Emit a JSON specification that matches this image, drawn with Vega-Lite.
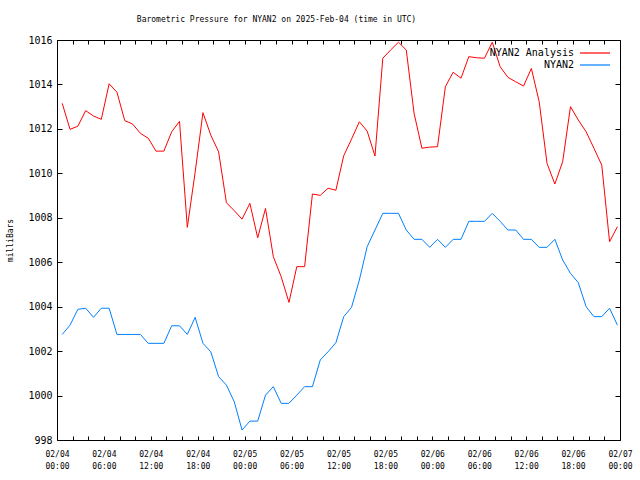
{
  "$schema": "https://vega.github.io/schema/vega-lite/v6.json",
  "width": 563,
  "height": 400,
  "autosize": {"type": "none"},
  "padding": {"left": 57, "top": 40, "right": 20, "bottom": 40},
  "background": "white",
  "title": {
    "text": "Barometric Pressure for NYAN2 on 2025-Feb-04 (time in UTC)",
    "anchor": "middle",
    "dx": -62,
    "offset": 11,
    "font": "DejaVu Sans Mono",
    "fontSize": 8,
    "fontWeight": "normal",
    "color": "black"
  },
  "config": {
    "view": {"stroke": "black", "strokeWidth": 1},
    "axis": {"grid": false, "domain": false, "tickColor": "black", "labelColor": "black", "titleColor": "black"}
  },
  "data": {
    "values": [
      {"t": "2025-02-04T00:40:00Z", "NYAN2 Analysis": 1013.15, "NYAN2": 1002.75},
      {"t": "2025-02-04T01:40:00Z", "NYAN2 Analysis": 1011.98, "NYAN2": 1003.17},
      {"t": "2025-02-04T02:40:00Z", "NYAN2 Analysis": 1012.12, "NYAN2": 1003.88},
      {"t": "2025-02-04T03:40:00Z", "NYAN2 Analysis": 1012.82, "NYAN2": 1003.93},
      {"t": "2025-02-04T04:40:00Z", "NYAN2 Analysis": 1012.58, "NYAN2": 1003.52},
      {"t": "2025-02-04T05:40:00Z", "NYAN2 Analysis": 1012.43, "NYAN2": 1003.93},
      {"t": "2025-02-04T06:40:00Z", "NYAN2 Analysis": 1014.03, "NYAN2": 1003.93},
      {"t": "2025-02-04T07:40:00Z", "NYAN2 Analysis": 1013.65, "NYAN2": 1002.75},
      {"t": "2025-02-04T08:40:00Z", "NYAN2 Analysis": 1012.37, "NYAN2": 1002.75},
      {"t": "2025-02-04T09:40:00Z", "NYAN2 Analysis": 1012.22, "NYAN2": 1002.75},
      {"t": "2025-02-04T10:40:00Z", "NYAN2 Analysis": 1011.80, "NYAN2": 1002.75},
      {"t": "2025-02-04T11:40:00Z", "NYAN2 Analysis": 1011.58, "NYAN2": 1002.35},
      {"t": "2025-02-04T12:40:00Z", "NYAN2 Analysis": 1011.00, "NYAN2": 1002.35},
      {"t": "2025-02-04T13:40:00Z", "NYAN2 Analysis": 1011.00, "NYAN2": 1002.35},
      {"t": "2025-02-04T14:40:00Z", "NYAN2 Analysis": 1011.87, "NYAN2": 1003.14},
      {"t": "2025-02-04T15:40:00Z", "NYAN2 Analysis": 1012.34, "NYAN2": 1003.14},
      {"t": "2025-02-04T16:40:00Z", "NYAN2 Analysis": 1007.57, "NYAN2": 1002.75},
      {"t": "2025-02-04T17:40:00Z", "NYAN2 Analysis": 1010.05, "NYAN2": 1003.52},
      {"t": "2025-02-04T18:40:00Z", "NYAN2 Analysis": 1012.73, "NYAN2": 1002.35},
      {"t": "2025-02-04T19:40:00Z", "NYAN2 Analysis": 1011.72, "NYAN2": 1001.97},
      {"t": "2025-02-04T20:40:00Z", "NYAN2 Analysis": 1010.97, "NYAN2": 1000.85},
      {"t": "2025-02-04T21:40:00Z", "NYAN2 Analysis": 1008.68, "NYAN2": 1000.47},
      {"t": "2025-02-04T22:40:00Z", "NYAN2 Analysis": 1008.32, "NYAN2": 999.72},
      {"t": "2025-02-04T23:40:00Z", "NYAN2 Analysis": 1007.94, "NYAN2": 998.45},
      {"t": "2025-02-05T00:40:00Z", "NYAN2 Analysis": 1008.65, "NYAN2": 998.85},
      {"t": "2025-02-05T01:40:00Z", "NYAN2 Analysis": 1007.10, "NYAN2": 998.85},
      {"t": "2025-02-05T02:40:00Z", "NYAN2 Analysis": 1008.42, "NYAN2": 1000.02},
      {"t": "2025-02-05T03:40:00Z", "NYAN2 Analysis": 1006.25, "NYAN2": 1000.40},
      {"t": "2025-02-05T04:40:00Z", "NYAN2 Analysis": 1005.35, "NYAN2": 999.65},
      {"t": "2025-02-05T05:40:00Z", "NYAN2 Analysis": 1004.19, "NYAN2": 999.65},
      {"t": "2025-02-05T06:40:00Z", "NYAN2 Analysis": 1005.80, "NYAN2": 1000.02},
      {"t": "2025-02-05T07:40:00Z", "NYAN2 Analysis": 1005.80, "NYAN2": 1000.40},
      {"t": "2025-02-05T08:40:00Z", "NYAN2 Analysis": 1009.07, "NYAN2": 1000.40},
      {"t": "2025-02-05T09:40:00Z", "NYAN2 Analysis": 1009.01, "NYAN2": 1001.60},
      {"t": "2025-02-05T10:40:00Z", "NYAN2 Analysis": 1009.33, "NYAN2": 1001.97},
      {"t": "2025-02-05T11:40:00Z", "NYAN2 Analysis": 1009.24, "NYAN2": 1002.38},
      {"t": "2025-02-05T12:40:00Z", "NYAN2 Analysis": 1010.79, "NYAN2": 1003.55},
      {"t": "2025-02-05T13:40:00Z", "NYAN2 Analysis": 1011.54, "NYAN2": 1003.97},
      {"t": "2025-02-05T14:40:00Z", "NYAN2 Analysis": 1012.32, "NYAN2": 1005.20},
      {"t": "2025-02-05T15:40:00Z", "NYAN2 Analysis": 1011.90, "NYAN2": 1006.70},
      {"t": "2025-02-05T16:40:00Z", "NYAN2 Analysis": 1010.78, "NYAN2": 1007.45},
      {"t": "2025-02-05T17:40:00Z", "NYAN2 Analysis": 1015.18, "NYAN2": 1008.20},
      {"t": "2025-02-05T18:40:00Z", "NYAN2 Analysis": 1015.55, "NYAN2": 1008.20},
      {"t": "2025-02-05T19:40:00Z", "NYAN2 Analysis": 1015.90, "NYAN2": 1008.20},
      {"t": "2025-02-05T20:40:00Z", "NYAN2 Analysis": 1015.55, "NYAN2": 1007.45},
      {"t": "2025-02-05T21:40:00Z", "NYAN2 Analysis": 1012.70, "NYAN2": 1007.03},
      {"t": "2025-02-05T22:40:00Z", "NYAN2 Analysis": 1011.13, "NYAN2": 1007.03},
      {"t": "2025-02-05T23:40:00Z", "NYAN2 Analysis": 1011.18, "NYAN2": 1006.67},
      {"t": "2025-02-06T00:40:00Z", "NYAN2 Analysis": 1011.20, "NYAN2": 1007.03},
      {"t": "2025-02-06T01:40:00Z", "NYAN2 Analysis": 1013.90, "NYAN2": 1006.67},
      {"t": "2025-02-06T02:40:00Z", "NYAN2 Analysis": 1014.55, "NYAN2": 1007.03},
      {"t": "2025-02-06T03:40:00Z", "NYAN2 Analysis": 1014.28, "NYAN2": 1007.03},
      {"t": "2025-02-06T04:40:00Z", "NYAN2 Analysis": 1015.25, "NYAN2": 1007.84},
      {"t": "2025-02-06T05:40:00Z", "NYAN2 Analysis": 1015.20, "NYAN2": 1007.84},
      {"t": "2025-02-06T06:40:00Z", "NYAN2 Analysis": 1015.18, "NYAN2": 1007.84},
      {"t": "2025-02-06T07:40:00Z", "NYAN2 Analysis": 1015.90, "NYAN2": 1008.20},
      {"t": "2025-02-06T08:40:00Z", "NYAN2 Analysis": 1014.80, "NYAN2": 1007.84},
      {"t": "2025-02-06T09:40:00Z", "NYAN2 Analysis": 1014.32, "NYAN2": 1007.45},
      {"t": "2025-02-06T10:40:00Z", "NYAN2 Analysis": 1014.12, "NYAN2": 1007.45},
      {"t": "2025-02-06T11:40:00Z", "NYAN2 Analysis": 1013.93, "NYAN2": 1007.03},
      {"t": "2025-02-06T12:40:00Z", "NYAN2 Analysis": 1014.72, "NYAN2": 1007.03},
      {"t": "2025-02-06T13:40:00Z", "NYAN2 Analysis": 1013.22, "NYAN2": 1006.67},
      {"t": "2025-02-06T14:40:00Z", "NYAN2 Analysis": 1010.45, "NYAN2": 1006.67},
      {"t": "2025-02-06T15:40:00Z", "NYAN2 Analysis": 1009.52, "NYAN2": 1007.03},
      {"t": "2025-02-06T16:40:00Z", "NYAN2 Analysis": 1010.52, "NYAN2": 1006.10},
      {"t": "2025-02-06T17:40:00Z", "NYAN2 Analysis": 1013.00, "NYAN2": 1005.50},
      {"t": "2025-02-06T18:40:00Z", "NYAN2 Analysis": 1012.40, "NYAN2": 1005.08},
      {"t": "2025-02-06T19:40:00Z", "NYAN2 Analysis": 1011.87, "NYAN2": 1004.00},
      {"t": "2025-02-06T20:40:00Z", "NYAN2 Analysis": 1011.13, "NYAN2": 1003.55},
      {"t": "2025-02-06T21:40:00Z", "NYAN2 Analysis": 1010.37, "NYAN2": 1003.55},
      {"t": "2025-02-06T22:40:00Z", "NYAN2 Analysis": 1006.92, "NYAN2": 1003.93},
      {"t": "2025-02-06T23:40:00Z", "NYAN2 Analysis": 1007.60, "NYAN2": 1003.17}
    ]
  },
  "transform": [{"fold": ["NYAN2 Analysis", "NYAN2"], "as": ["series", "mb"]}],
  "layer": [
    {
      "mark": {"type": "line", "strokeWidth": 1},
      "encoding": {
        "x": {
          "field": "t",
          "type": "temporal",
          "scale": {"type": "utc", "domain": [1738627200000, 1738886400000], "nice": false},
          "axis": {
            "orient": "bottom",
            "title": null,
            "values": [1738627200000, 1738634400000, 1738641600000, 1738648800000, 1738656000000, 1738663200000, 1738670400000, 1738677600000, 1738684800000, 1738692000000, 1738699200000, 1738706400000, 1738713600000, 1738720800000, 1738728000000, 1738735200000, 1738742400000, 1738749600000, 1738756800000, 1738764000000, 1738771200000, 1738778400000, 1738785600000, 1738792800000, 1738800000000, 1738807200000, 1738814400000, 1738821600000, 1738828800000, 1738836000000, 1738843200000, 1738850400000, 1738857600000, 1738864800000, 1738872000000, 1738879200000, 1738886400000],
            "tickSize": -4,
            "labelExpr": "utchours(datum.value) % 6 == 0 ? [utcFormat(datum.value, '%m/%d'), utcFormat(datum.value, '%H:%M')] : ''",
            "labelOverlap": false,
            "labelFlush": false,
            "labelPadding": 14,
            "labelFont": "DejaVu Sans Mono",
            "labelFontSize": 8,
            "labelLineHeight": 12,
            "labelBaseline": "top"
          }
        },
        "y": {
          "field": "mb",
          "type": "quantitative",
          "scale": {"domain": [998, 1016], "nice": false, "zero": false},
          "axis": {
            "orient": "left",
            "values": [998, 1000, 1002, 1004, 1006, 1008, 1010, 1012, 1014, 1016],
            "format": "d",
            "tickSize": -5,
            "labelPadding": 10,
            "labelFont": "DejaVu Sans Mono",
            "labelFontSize": 10,
            "title": "milliBars",
            "titleFont": "DejaVu Sans Mono",
            "titleFontSize": 8,
            "titleFontWeight": "normal",
            "titlePadding": 13
          }
        },
        "color": {
          "field": "series",
          "type": "nominal",
          "sort": ["NYAN2 Analysis", "NYAN2"],
          "scale": {"domain": ["NYAN2 Analysis", "NYAN2"], "range": ["#ff0000", "#0080ff"]},
          "legend": {
            "title": null,
            "orient": "top-right",
            "offset": 7,
            "padding": 0,
            "symbolType": "M2,0H8",
            "symbolSize": 100,
            "symbolStrokeWidth": 1.2,
            "symbolFillColor": "transparent",
            "labelAlign": "right",
            "labelOffset": -2,
            "labelFont": "DejaVu Sans Mono",
            "labelFontSize": 10,
            "labelColor": "black",
            "rowPadding": 1
          }
        }
      }
    },
    {
      "mark": {"type": "line", "opacity": 0},
      "encoding": {
        "x": {
          "field": "t",
          "type": "temporal",
          "scale": {"type": "utc", "domain": [1738627200000, 1738886400000], "nice": false},
          "axis": {"orient": "top", "title": null, "labels": false, "values": [1738627200000, 1738634400000, 1738641600000, 1738648800000, 1738656000000, 1738663200000, 1738670400000, 1738677600000, 1738684800000, 1738692000000, 1738699200000, 1738706400000, 1738713600000, 1738720800000, 1738728000000, 1738735200000, 1738742400000, 1738749600000, 1738756800000, 1738764000000, 1738771200000, 1738778400000, 1738785600000, 1738792800000, 1738800000000, 1738807200000, 1738814400000, 1738821600000, 1738828800000, 1738836000000, 1738843200000, 1738850400000, 1738857600000, 1738864800000, 1738872000000, 1738879200000, 1738886400000], "tickSize": -4}
        },
        "y": {
          "field": "mb",
          "type": "quantitative",
          "scale": {"domain": [998, 1016], "nice": false, "zero": false},
          "axis": {"orient": "right", "title": null, "labels": false, "values": [998, 1000, 1002, 1004, 1006, 1008, 1010, 1012, 1014, 1016], "tickSize": -5}
        },
        "detail": {"field": "series", "type": "nominal"}
      }
    }
  ],
  "resolve": {"axis": {"x": "independent", "y": "independent"}}
}
